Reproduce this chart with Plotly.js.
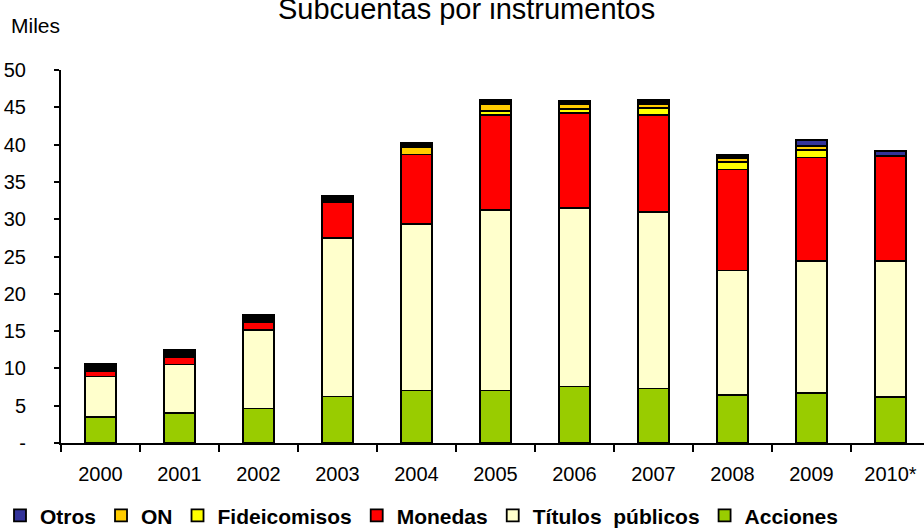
<!DOCTYPE html>
<html>
<head>
<meta charset="utf-8">
<script src="https://cdn.plot.ly/plotly-3.0.1.min.js"></script>
<style>html,body{margin:0;padding:0;background:#fff;}#chart{width:924px;height:529px;}</style>
</head>
<body>
<div id="chart"></div>
<script>
// Data (miles), stacked bottom to top
const years = ["2000","2001","2002","2003","2004","2005","2006","2007","2008","2009","2010*"];
const acciones      = [3.46, 4.00, 4.62, 6.23, 7.04, 7.04, 7.57, 7.30, 6.46, 6.73, 6.19];
const titulos       = [5.45, 6.52, 10.50, 21.22, 22.34, 24.22, 23.90, 23.69, 16.66, 17.64, 18.18];
const monedas       = [0.77, 0.98, 1.03, 4.79, 9.30, 12.68, 12.73, 12.95, 13.54, 13.90, 14.08];
const fideicomisos  = [0, 0, 0, 0, 0, 0.55, 0.60, 1.00, 1.00, 1.05, 0];
const on            = [0, 0, 0, 0, 1.00, 1.00, 0.60, 0.50, 0.50, 0.45, 0];
const otros         = [0, 0, 0, 0, 0, 0, 0, 0, 0, 0.85, 0.72];
const sinDetalle    = [0.98, 1.03, 0.98, 0.94, 0.60, 0.50, 0.50, 0.50, 0.40, 0, 0];
const yTickVals = [0, 5, 10, 15, 20, 25, 30, 35, 40, 45, 50];
const yTickText = ["-", "5", "10", "15", "20", "25", "30", "35", "40", "45", "50"];

const line = {color: "#000000", width: 1.8};
function bar(name, y, color, showlegend) {
  return {type: "bar", name: name, x: years, y: y, showlegend: showlegend,
          marker: {color: color, line: line}, hoverinfo: "x+y+name"};
}
const data = [
  bar("Acciones", acciones, "#99CC00", true),
  bar("Títulos  públicos", titulos, "#FFFFCC", true),
  bar("Monedas", monedas, "#FF0000", true),
  bar("Fideicomisos", fideicomisos, "#FFFF00", true),
  bar("ON", on, "#FFCC00", true),
  bar("Otros", otros, "#333399", true),
  bar("", sinDetalle, "#000000", false)
];

const layout = {
  width: 924, height: 529,
  paper_bgcolor: "#ffffff", plot_bgcolor: "#ffffff",
  font: {family: "Liberation Sans, Arial, sans-serif", color: "#000000", size: 20},
  margin: {l: 61, r: 0, t: 70, b: 86},
  barmode: "stack", bargap: 0.6,
  title: {text: "Subcuentas por instrumentos", font: {size: 29, color: "#000000"},
          x: 0.505, xref: "container", xanchor: "center", y: 0.984, yref: "container", yanchor: "middle"},
  xaxis: {type: "category", range: [-0.5, 10.424], showgrid: false, zeroline: false,
          showline: true, linecolor: "#000000", linewidth: 2,
          ticks: "outside", tickson: "boundaries", ticklen: 7, tickwidth: 2, tickcolor: "#000000",
          ticklabelstandoff: 12, tickfont: {size: 20}, fixedrange: true},
  yaxis: {range: [0, 50], tickvals: yTickVals, ticktext: yTickText, showgrid: false, zeroline: false,
          showline: true, linecolor: "#000000", linewidth: 2,
          ticks: "outside", ticklen: 5, tickwidth: 2, tickcolor: "#000000",
          ticklabelstandoff: 24, tickfont: {size: 20}, fixedrange: true},
  legend: {orientation: "h", traceorder: "reversed", xref: "container", yref: "container",
           x: 0, xanchor: "left", y: 0.025, yanchor: "middle",
           font: {size: 21, weight: "bold"}, itemwidth: 30, bgcolor: "rgba(0,0,0,0)"},
  annotations: [{text: "Miles", xref: "paper", yref: "paper", x: -0.06, y: 1.12, xanchor: "left", yanchor: "middle",
                 showarrow: false, font: {size: 21}}]
};
Plotly.newPlot("chart", data, layout, {displayModeBar: false, staticPlot: true});
</script>
</body>
</html>
